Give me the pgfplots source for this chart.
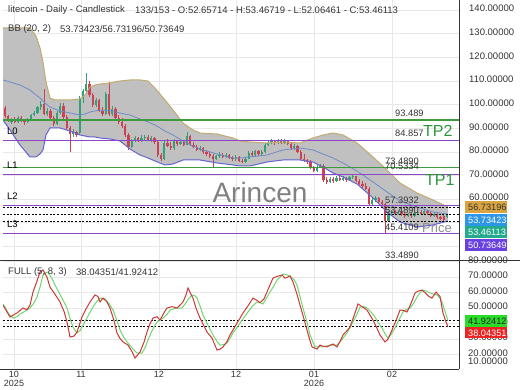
\documentclass[border=0pt]{standalone}
\usepackage{pgfplots}
\pgfplotsset{compat=1.18}
\usepackage{pgfplotstable}
\usepackage{fontspec}
\setmainfont{Liberation Sans}

\definecolor{gridc}{RGB}{232,232,232}
\definecolor{labc}{RGB}{51,51,51}
\definecolor{upc}{RGB}{52,160,120}
\definecolor{dnc}{RGB}{205,65,80}
\definecolor{bbfill}{RGB}{192,192,192}
\definecolor{bbup}{RGB}{196,170,110}
\definecolor{bbmid}{RGB}{110,140,200}
\definecolor{bblo}{RGB}{100,100,210}
\definecolor{lvgreen}{RGB}{60,155,60}
\definecolor{lvpurple}{RGB}{140,70,200}
\definecolor{tpgreen}{RGB}{45,150,60}
\definecolor{kred}{RGB}{205,55,55}
\definecolor{dgreen}{RGB}{110,215,110}
\definecolor{boxor}{RGB}{218,165,65}
\definecolor{boxbl}{RGB}{45,150,230}
\definecolor{boxtl}{RGB}{35,170,140}
\definecolor{boxpu}{RGB}{105,65,225}
\definecolor{boxgr}{RGB}{40,220,40}
\definecolor{boxrd}{RGB}{235,35,35}

\pgfplotstableread{
x o h l c
11.50 92.5 94.5 91.8 93.8
18.00 92.8 95.0 92.4 94.3
27.75 92.6 94.5 92.2 94.0
31.00 94.0 96.2 93.6 95.6
34.25 95.6 97.5 95.0 96.6
37.50 96.6 99.5 96.0 98.8
40.75 98.8 101.5 97.8 100.2
47.25 96.0 98.5 95.2 97.2
57.00 92.0 97.5 91.5 96.5
60.25 96.5 100.5 96.0 99.2
73.25 87.6 89.5 86.5 88.5
79.75 87.8 103.5 87.0 102.8
83.00 102.8 106.8 100.5 105.8
86.25 105.8 113.5 104.5 108.5
96.00 99.8 102.8 99.0 101.8
105.75 96.0 105.5 95.5 104.5
112.25 96.0 99.5 95.0 98.0
131.75 82.0 85.5 81.5 84.5
135.00 84.5 86.8 84.0 85.8
141.50 84.8 87.0 84.2 86.0
144.75 86.0 87.2 85.2 86.4
151.25 85.0 86.6 84.0 85.8
164.25 77.0 84.5 76.5 83.8
174.00 81.5 85.5 81.0 84.5
180.50 83.2 85.0 82.8 84.0
187.00 83.0 88.5 82.8 86.8
200.00 80.8 82.5 80.3 81.8
216.25 77.0 78.8 76.5 78.2
219.50 78.2 79.8 77.5 78.8
226.00 78.0 79.4 77.5 78.6
235.75 76.8 78.5 76.2 77.8
245.50 75.8 77.8 75.4 77.0
248.75 77.0 80.2 76.8 79.5
255.25 78.5 81.0 78.0 80.2
261.75 79.0 80.8 78.6 80.0
265.00 80.0 83.8 79.6 83.0
268.25 83.0 84.6 82.4 83.8
271.50 83.8 85.4 83.2 84.6
278.00 83.6 85.6 83.2 84.8
284.50 83.8 85.4 83.3 84.6
294.25 81.5 83.5 81.0 82.5
317.00 72.0 74.6 71.6 73.8
320.25 73.8 75.0 73.0 74.2
330.00 67.2 69.4 66.8 68.6
336.50 67.6 69.6 67.2 69.0
343.00 68.2 69.6 67.8 68.8
349.50 68.0 69.8 67.6 69.2
352.75 69.2 70.2 68.6 69.6
372.25 58.0 60.6 57.5 59.8
375.50 59.8 61.2 59.0 60.4
388.50 50.8 54.8 50.4 54.0
391.75 54.0 55.6 53.4 54.8
398.25 53.8 55.2 53.4 54.4
408.00 52.8 54.2 52.4 53.6
414.50 52.8 54.6 52.4 54.0
417.75 54.0 55.2 53.6 54.6
424.25 53.8 55.6 53.4 54.8
434.00 53.0 54.4 52.6 53.8
447.00 52.66 53.47 52.06 53.46
}\upT

\pgfplotstableread{
x o h l c
5.00 98.6 99.5 94.5 95.0
8.25 95.0 95.8 92.8 93.5
14.75 93.8 94.6 92.2 92.8
21.25 94.3 95.0 92.8 93.4
24.50 93.4 94.0 91.5 92.6
44.00 100.2 106.5 95.5 96.0
50.50 97.2 98.0 93.5 94.2
53.75 94.2 95.0 91.0 92.0
63.50 99.2 100.5 94.0 94.8
66.75 94.8 95.5 89.2 90.0
70.00 90.0 90.8 80.0 87.6
76.50 88.5 89.0 86.4 87.2
89.50 108.5 109.8 103.0 104.0
92.75 104.0 105.0 99.0 99.8
99.25 101.8 102.5 97.0 97.5
102.50 97.5 99.0 95.0 96.0
109.00 104.5 109.5 95.2 96.0
115.50 98.0 98.8 93.8 94.5
118.75 94.5 95.5 92.0 92.8
122.00 92.8 94.5 90.2 91.0
125.25 91.0 92.0 86.5 87.0
128.50 87.0 87.8 81.0 82.0
138.25 85.8 86.5 84.0 84.8
148.00 86.4 87.0 84.5 85.0
154.50 85.8 86.4 83.5 84.2
157.75 84.2 85.0 77.8 78.5
161.00 78.5 79.5 76.0 77.0
167.50 83.8 85.5 82.0 82.5
170.75 82.5 84.0 80.8 81.5
177.25 84.5 85.2 82.5 83.2
183.75 84.0 84.8 82.5 83.0
190.25 86.8 87.2 82.5 83.0
193.50 83.0 84.0 81.5 82.0
196.75 82.0 83.0 80.2 80.8
203.25 81.8 82.2 79.2 80.0
206.50 80.0 80.8 78.3 79.0
209.75 79.0 80.0 77.5 78.2
213.00 78.2 79.0 73.5 77.0
222.75 78.8 79.5 77.3 78.0
229.25 78.6 79.0 77.0 77.5
232.50 77.5 78.2 76.0 76.8
239.00 77.8 78.4 75.8 76.2
242.25 76.2 77.2 75.2 75.8
252.00 79.5 80.5 78.0 78.5
258.50 80.2 80.8 78.4 79.0
274.75 84.6 85.2 83.0 83.6
281.25 84.8 85.4 83.2 83.8
287.75 84.6 85.0 82.8 83.4
291.00 83.4 84.0 81.0 81.5
297.50 82.5 83.0 79.5 80.0
300.75 80.0 80.8 76.5 77.2
304.00 77.2 79.0 75.8 76.4
307.25 76.4 77.2 75.0 75.6
310.50 75.6 76.4 72.8 73.5
313.75 73.5 74.2 71.4 72.0
323.50 74.2 74.8 67.2 68.0
326.75 68.0 69.5 66.6 67.2
333.25 68.6 69.2 67.0 67.6
339.75 69.0 69.8 67.6 68.2
346.25 68.8 69.4 67.4 68.0
356.00 69.6 70.0 67.2 67.8
359.25 67.8 68.6 65.8 66.6
362.50 66.6 67.6 64.6 65.4
365.75 65.4 66.8 63.8 64.4
369.00 64.4 65.0 57.2 58.0
378.75 60.4 61.0 58.2 59.0
382.00 59.0 59.8 57.0 57.8
385.25 57.8 58.2 45.4 50.8
395.00 54.8 55.4 53.2 53.8
401.50 54.4 55.0 53.0 53.6
404.75 53.6 54.2 52.2 52.8
411.25 53.6 54.2 52.2 52.8
421.00 54.6 55.4 53.2 53.8
427.50 54.8 55.4 53.4 54.0
430.75 54.0 54.6 52.4 53.0
437.25 53.8 54.2 51.8 52.4
440.50 52.4 53.0 51.0 51.6
443.75 52.8 53.4 50.8 51.4
}\dnT

\pgfplotstableread{
x u m l
3 132.39 110.40 93.49
10 132.39 109.56 89.26
20 132.39 108.29 82.92
30 132.39 106.18 77.85
36 129.01 104.06 77.85
40 123.93 102.79 79.12
43 118.01 101.52 80.81
46 109.56 100.25 87.15
50 102.79 98.99 90.11
55 101.95 98.14 90.11
60 101.95 97.30 90.11
70 101.95 96.45 88.84
80 102.37 95.60 87.15
85 104.06 96.03 86.72
90 107.44 96.87 86.30
95 108.29 97.30 86.30
100 108.71 97.72 85.88
110 109.14 97.30 85.46
120 109.98 96.45 84.61
130 110.40 95.60 81.23
140 110.40 93.91 78.69
148 109.98 92.65 77.42
155 107.02 91.38 76.15
165 101.95 88.84 74.46
173 97.72 87.15 74.89
183 92.22 84.61 76.58
193 89.26 82.50 76.58
200 87.99 81.23 76.58
217 87.57 79.12 75.31
233 85.88 77.42 74.46
240 84.61 77.42 74.04
250 84.19 77.85 74.04
267 83.77 78.69 75.73
283 84.19 80.81 76.58
300 83.77 81.65 76.58
313 85.88 80.81 75.73
323 87.15 79.12 73.62
333 87.99 77.42 71.08
343 87.15 75.31 69.39
357 83.77 71.93 66.43
373 77.85 67.28 60.51
387 72.35 63.05 54.59
400 66.85 59.24 50.36
417 62.62 56.70 48.24
433 59.66 54.59 49.09
448 56.70 53.74 50.79
}\bbT

% band area outline: upper band forward, lower band back
\pgfplotstableread{
x y
3 132.39
10 132.39
20 132.39
30 132.39
36 129.01
40 123.93
43 118.01
46 109.56
50 102.79
55 101.95
60 101.95
70 101.95
80 102.37
85 104.06
90 107.44
95 108.29
100 108.71
110 109.14
120 109.98
130 110.40
140 110.40
148 109.98
155 107.02
165 101.95
173 97.72
183 92.22
193 89.26
200 87.99
217 87.57
233 85.88
240 84.61
250 84.19
267 83.77
283 84.19
300 83.77
313 85.88
323 87.15
333 87.99
343 87.15
357 83.77
373 77.85
387 72.35
400 66.85
417 62.62
433 59.66
448 56.70
448 50.79
433 49.09
417 48.24
400 50.36
387 54.59
373 60.51
357 66.43
343 69.39
333 71.08
323 73.62
313 75.73
300 76.58
283 76.58
267 75.73
250 74.04
240 74.04
233 74.46
217 75.31
200 76.58
193 76.58
183 76.58
173 74.89
165 74.46
155 76.15
148 77.42
140 78.69
130 81.23
120 84.61
110 85.46
100 85.88
95 86.30
90 86.30
85 86.72
80 87.15
70 88.84
60 90.11
55 90.11
50 90.11
46 87.15
43 80.81
40 79.12
36 77.85
30 77.85
20 82.92
10 89.26
3 93.49
}\areaT

\pgfplotstableread{
x k
3 52.0
10 44.3
17 46.9
23 50.1
27 49.0
30 52.0
33 60.4
37 67.5
40 73.3
43 74.6
47 70.0
50 63.6
55 59.0
60 54.0
64 48.0
67 41.1
70 31.4
74 32.0
77 34.6
82 44.3
86 49.5
90 54.0
95 58.5
98 57.5
100 54.0
103 56.5
107 54.0
110 50.1
114 42.0
117 34.0
120 30.5
123 28.2
128 26.2
132 22.0
135 17.8
140 21.7
144 28.0
147 34.6
150 40.0
153 43.6
157 44.5
160 42.3
164 47.0
167 50.1
172 51.0
177 50.1
180 52.0
183 54.0
186 58.5
188 63.0
191 59.0
193 56.5
196 50.0
200 43.6
204 38.5
207 34.6
212 30.7
217 23.0
220 23.5
223 25.0
227 28.5
230 32.7
234 37.0
237 40.4
240 43.5
243 46.9
248 51.5
253 56.5
257 55.0
260 53.5
264 56.0
267 60.4
270 65.0
273 69.4
277 70.5
282 71.4
285 69.4
290 70.7
293 66.9
297 59.0
300 52.0
304 43.0
307 35.9
310 29.0
312 25.0
317 23.6
320 26.2
323 25.5
327 25.0
330 26.0
333 26.9
337 25.0
340 28.5
343 32.7
347 35.5
350 37.8
354 45.0
358 52.7
362 51.0
367 48.8
370 45.5
373 42.3
377 37.0
380 32.7
385 28.2
388 30.0
392 35.9
396 42.0
400 48.8
404 48.5
407 47.5
411 53.0
415 59.8
418 61.0
422 61.7
425 60.0
429 57.5
432 56.5
436 60.4
440 57.5
443 46.9
446 41.0
448 38.04
}\kT

\pgfplotstableread{
x d
3 52.5
5 50.7
9 46.0
13 43.6
17 44.5
20 46.2
25 48.0
30 50.1
34 53.5
37 57.2
40 63.5
43 71.4
46 73.0
48 73.3
52 69.0
55 64.9
60 59.0
64 54.0
67 50.1
70 43.5
73 37.8
77 34.0
80 35.5
83 39.1
88 45.0
93 50.7
97 54.5
100 56.5
105 56.0
109 53.0
113 48.8
117 42.0
120 35.9
124 31.0
128 27.5
133 23.5
137 21.1
142 21.0
145 24.5
148 29.5
152 35.5
157 41.1
163 43.6
167 46.0
170 48.8
176 50.0
182 50.1
186 53.5
189 56.5
192 58.5
195 58.0
197 56.5
200 51.5
203 45.6
208 39.0
213 32.7
217 28.5
220 26.2
224 26.5
227 27.5
230 30.5
233 34.0
237 37.5
240 40.4
244 44.0
248 47.5
252 51.0
257 54.0
260 53.5
263 52.7
266 56.0
270 60.4
274 64.5
277 68.1
283 72.0
287 71.5
290 70.7
294 68.5
297 64.9
300 57.5
303 50.1
307 41.0
310 32.7
313 28.0
315 25.0
322 25.0
326 25.5
330 26.2
337 26.2
341 29.0
347 34.0
350 37.5
353 41.1
357 46.0
360 50.7
364 51.0
367 50.1
371 47.5
375 44.3
378 40.8
382 37.2
385 33.5
388 30.7
391 33.0
395 37.2
399 42.5
403 47.5
406 49.0
410 50.1
414 53.5
417 57.2
420 60.0
423 61.7
427 60.8
430 59.8
434 59.0
437 58.5
440 56.5
442 54.0
445 48.0
448 41.92
}\dT

\newcommand{\lfont}{\fontsize{9.5}{10}\selectfont}
\newcommand{\vfont}{\fontsize{9.3}{10}\selectfont}

\pgfplotsset{
  candle/.style={forget plot, only marks, mark=none, mark size=0pt,
    mark options={draw=none, fill=none},
    error bars/.cd, y dir=plus, y explicit, error mark=none,
    error bar style={solid, line width=#1}},
  fivedig/.style={
    /pgf/number format/fixed,
    /pgf/number format/fixed zerofill,
    /pgf/number format/precision=5,
    /pgf/number format/1000 sep={},
    /pgf/number format/assume math mode=true},
}

\begin{document}
\begin{tikzpicture}
\path[use as bounding box] (0pt,0pt) rectangle (520pt,390pt);

% ---------- price panel ----------
\begin{axis}[
  at={(3pt,130pt)}, anchor=south west, scale only axis,
  width=456pt, height=260pt,
  xmin=3, xmax=459, ymin=34.29, ymax=144.23,
  axis line style={draw=none}, major tick length=0pt, tick style={draw=none},
  xtick={14,81,159,236,314,392}, xticklabels={},
  ytick={60,70,...,140}, yticklabel pos=right, fivedig,
  extra y ticks={40,50}, extra y tick labels={},
  yticklabel style={anchor=west, inner sep=0pt, xshift=10pt, yshift=1.5pt,
    text=labc, font=\lfont},
  xmajorgrids, ymajorgrids, grid style={gridc, line width=0.7pt},
  extra y tick style={grid=major},
]
\addplot[fill=bbfill, draw=none, forget plot] table[x=x,y=y]{\areaT};

\node[text=black!50, font=\fontsize{28}{30}\selectfont] at (axis cs:260,63.0) {Arincen};
\node[text=black!45, font=\fontsize{13}{14}\selectfont] at (axis cs:437,47.8) {Price};

% candles: wicks and bodies
\addplot[upc, candle=0.7pt] table[x=x, y=l, y error plus expr=\thisrow{h}-\thisrow{l}]{\upT};
\addplot[upc, candle=2.2pt] table[x=x, y=o, y error plus expr=\thisrow{c}-\thisrow{o}]{\upT};
\addplot[dnc, candle=0.7pt] table[x=x, y=l, y error plus expr=\thisrow{h}-\thisrow{l}]{\dnT};
\addplot[dnc, candle=2.2pt] table[x=x, y=c, y error plus expr=\thisrow{o}-\thisrow{c}]{\dnT};

% bands
\addplot[color=bbup, line width=1pt, no markers] table[x=x,y=u]{\bbT};
\addplot[color=bbmid, line width=0.8pt, no markers] table[x=x,y=m]{\bbT};
\addplot[color=bblo, line width=1pt, no markers] table[x=x,y=l]{\bbT};

% level lines
\addplot[lvgreen, line width=1.1pt] coordinates {(3,93.489) (459,93.489)};
\addplot[lvpurple, line width=1.1pt] coordinates {(3,84.857) (459,84.857)};
\addplot[lvgreen, line width=1.1pt] coordinates {(3,73.489) (459,73.489)};
\addplot[lvpurple, line width=1.1pt] coordinates {(3,70.5334) (459,70.5334)};
\addplot[lvpurple, line width=1.1pt] coordinates {(3,57.3932) (459,57.3932)};
\addplot[lvpurple, line width=1.1pt] coordinates {(3,45.4109) (459,45.4109)};
\addplot[black, line width=0.8pt, dash pattern=on 2pt off 1.6pt] coordinates {(3,56.73196) (459,56.73196)};
\addplot[black, line width=0.8pt, dash pattern=on 2pt off 1.6pt] coordinates {(3,53.73423) (459,53.73423)};
\addplot[black, line width=0.8pt, dash pattern=on 2pt off 1.6pt] coordinates {(3,53.46113) (459,53.46113)};
\addplot[black, line width=0.8pt, dash pattern=on 2pt off 1.6pt] coordinates {(3,50.73649) (459,50.73649)};

\node[anchor=base west, inner sep=0pt, yshift=3.5pt, text=labc, font=\vfont] at (axis cs:395,93.489) {93.489};
\node[anchor=base west, inner sep=0pt, yshift=3.5pt, text=labc, font=\vfont] at (axis cs:395,84.857) {84.857};
\node[anchor=base west, inner sep=0pt, yshift=3.2pt, text=labc, font=\vfont] at (axis cs:385,73.489) {73.4890};
\node[anchor=base west, inner sep=0pt, yshift=4.3pt, text=labc, font=\vfont] at (axis cs:385,70.5334) {70.5334};
\node[anchor=base west, inner sep=0pt, yshift=2pt, text=labc, font=\vfont] at (axis cs:385,57.3932) {57.3932};
\node[anchor=base west, inner sep=0pt, yshift=1.3pt, text=labc, font=\vfont] at (axis cs:385,53.489) {53.4890};
\node[anchor=base west, inner sep=0pt, yshift=2.7pt, text=labc, font=\vfont] at (axis cs:385,45.4109) {45.4109};
\node[anchor=base west, inner sep=0pt, yshift=3.7pt, text=labc, font=\vfont] at (axis cs:385,33.489) {33.4890};
\node[anchor=west, inner sep=0pt, text=tpgreen, font=\fontsize{16}{17}\selectfont] at (axis cs:423,88.85) {TP2};
\node[anchor=west, inner sep=0pt, text=tpgreen, font=\fontsize{16}{17}\selectfont] at (axis cs:425,68.1) {TP1};
\end{axis}

% ---------- stochastic panel ----------
\begin{axis}[
  at={(3pt,21pt)}, anchor=south west, scale only axis,
  width=456pt, height=109pt,
  xmin=3, xmax=459, ymin=10.76, ymax=81.08,
  axis line style={draw=none}, major tick length=0pt, tick style={draw=none},
  xtick={14,81,159,236,314,392},
  xticklabels={{10\\2025},11,12,12,{01\\2026},02},
  xticklabel style={align=center, anchor=north, inner sep=0pt, yshift=-2.5pt,
    text=labc, font=\fontsize{9}{9}\selectfont},
  ytick={20,30,...,80}, yticklabel pos=right, fivedig,
  yticklabel style={anchor=west, inner sep=0pt, xshift=9pt, yshift=1.5pt,
    text=labc, font=\lfont},
  xmajorgrids, ymajorgrids, grid style={gridc, line width=0.7pt},
]
\addplot[black, line width=0.8pt, dash pattern=on 2pt off 1.6pt] coordinates {(3,41.92412) (459,41.92412)};
\addplot[black, line width=0.8pt, dash pattern=on 2pt off 1.6pt] coordinates {(3,38.04351) (459,38.04351)};
\addplot[dgreen, line width=1pt, no markers] table[x=x,y=d]{\dT};
\addplot[kred, line width=1pt, no markers] table[x=x,y=k]{\kT};
\end{axis}

% frame lines
\draw[labc, line width=0.9pt] (459pt,390pt) -- (459pt,21pt);
\draw[labc, line width=0.9pt] (0pt,130pt) -- (520pt,130pt);
\draw[labc, line width=0.9pt] (0pt,21pt) -- (459pt,21pt);

% header texts
\node[anchor=west, inner sep=0pt, text=labc, font=\lfont] at (8pt,380pt) {litecoin - Daily - Candlestick};
\node[anchor=west, inner sep=0pt, text=labc, font=\lfont] at (135pt,380pt) {133/153 - O:52.65714 - H:53.46719 - L:52.06461 - C:53.46113};
\node[anchor=west, inner sep=0pt, text=labc, font=\lfont] at (8pt,361pt) {BB (20, 2)};
\node[anchor=west, inner sep=0pt, text=labc, font=\lfont] at (60pt,361pt) {53.73423/56.73196/50.73649};
\node[anchor=west, inner sep=0pt, text=labc, font=\lfont] at (8pt,118pt) {FULL (5, 8, 3)};
\node[anchor=west, inner sep=0pt, text=labc, font=\lfont] at (76pt,118pt) {38.04351/41.92412};

% level names
\node[anchor=west, inner sep=0pt, text=black, font=\lfont] at (7pt,259pt) {L0};
\node[anchor=west, inner sep=0pt, text=black, font=\lfont] at (7pt,225pt) {L1};
\node[anchor=west, inner sep=0pt, text=black, font=\lfont] at (7pt,194pt) {L2};
\node[anchor=west, inner sep=0pt, text=black, font=\lfont] at (7pt,166pt) {L3};

% stoch extra label
\node[anchor=west, inner sep=0pt, text=labc, font=\lfont] at (468pt,29pt) {10.00000};

% value boxes
\node[anchor=west, fill=boxor, text=black!80, inner xsep=3pt, inner ysep=0pt, minimum height=12pt, text width=36pt, font=\fontsize{9.2}{10}\selectfont] at (465pt,183pt) {56.73196};
\node[anchor=west, fill=boxbl, text=white, inner xsep=3pt, inner ysep=0pt, minimum height=12pt, text width=36pt, font=\fontsize{9.2}{10}\selectfont] at (465pt,170pt) {53.73423};
\node[anchor=west, fill=boxtl, text=white, inner xsep=3pt, inner ysep=0pt, minimum height=12pt, text width=36pt, font=\fontsize{9.2}{10}\selectfont] at (465pt,157.5pt) {53.46113};
\node[anchor=west, fill=boxpu, text=white, inner xsep=3pt, inner ysep=0pt, minimum height=12pt, text width=36pt, font=\fontsize{9.2}{10}\selectfont] at (465pt,145pt) {50.73649};
\node[anchor=west, fill=boxgr, text=black!85, inner xsep=3pt, inner ysep=0pt, minimum height=12pt, text width=36pt, font=\fontsize{9.2}{10}\selectfont] at (465pt,69pt) {41.92412};
\node[anchor=west, fill=boxrd, text=white, inner xsep=3pt, inner ysep=0pt, minimum height=11pt, text width=36pt, font=\fontsize{9.2}{10}\selectfont] at (465pt,57pt) {38.04351};
\end{tikzpicture}
\end{document}
